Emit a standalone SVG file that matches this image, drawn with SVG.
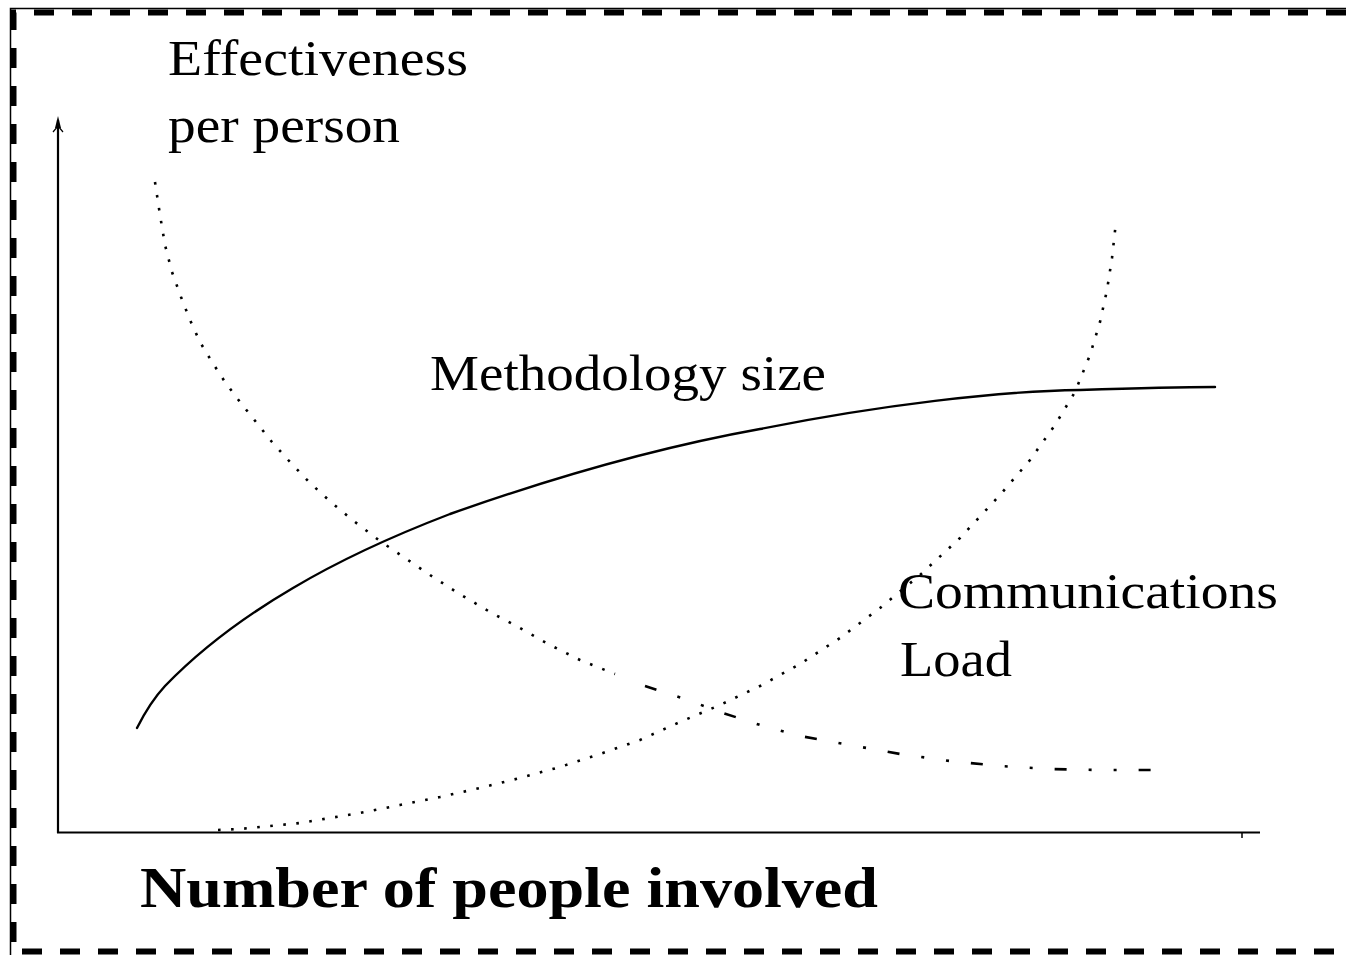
<svg xmlns="http://www.w3.org/2000/svg" width="1346" height="956" viewBox="0 0 1346 956">
  <style>
    .lbl { font-family: "Liberation Serif", "DejaVu Serif", serif; font-size: 50px; fill: #000; }
    .title { font-family: "Liberation Serif", "DejaVu Serif", serif; font-size: 58px; font-weight: bold; fill: #000; }
    .axis { fill: none; stroke: #000; stroke-width: 2.2; }
    .solid { fill: none; stroke: #000; stroke-width: 2.4; stroke-linejoin: round; stroke-linecap: round; }
    .dotted { fill: none; stroke: #000; stroke-width: 2.6; stroke-dasharray: 2.6 10.5; stroke-linejoin: round; }
    .dashdot { fill: none; stroke: #000; stroke-width: 2.6; stroke-dasharray: 12 22 3 22 3 22; }
    .frame-line { fill: none; stroke: #000; stroke-width: 1.5; }
    .frame-dash { fill: none; stroke: #000; stroke-width: 6; stroke-dasharray: 20 18; }
  </style>
  <rect width="1346" height="956" fill="#fff"/>

  <!-- dashed page frame -->
  <g id="frame">
    <path class="frame-line" d="M1346,8.5 H10.5 V955"/>
    <path class="frame-dash" d="M1346,12.5 H13.5 V951.5 H1346"/>
  </g>

  <!-- axes -->
  <g id="axes">
    <line class="axis" x1="58" y1="120" x2="58" y2="833"/>
    <path d="M58,116 L55,128 L61,128 Z" fill="#000"/>
    <path d="M53,132 L58,126 L63,132" fill="none" stroke="#000" stroke-width="1.2"/>
    <line class="axis" x1="57" y1="832.5" x2="1260" y2="832.5"/>
    <line x1="1242" y1="832" x2="1242" y2="838" stroke="#000" stroke-width="1.5"/>
  </g>

  <g id="connectors">
    <!-- methodology size: solid -->
    <path id="methodology-curve" class="solid" d="M137,728 C145,712 152,700 165,686 C195,655 235,622 293,588 C340,560 390,537 450,514 C560,475 660,447 760,429 C880,405 1000,391 1080,390 C1140,388 1180,387 1215,387"/>
    <!-- effectiveness per person: dotted, breaking into dashes at the tail -->
    <path id="effectiveness-curve" class="dotted" d="M155,182 L160,215 L165,245 L172,272 L181,297 L190,320 L200,342 L212,362 L225,382 L240,402 L256,422 L272,442 L290,462 L310,483 L332,503 L355,522 L380,541 L405,558 L430,575 L458,593 L490,612 L520,628 L550,645 L580,660 L615,674"/>
    <path id="effectiveness-tail" class="dashdot" d="M645,686 L685,699 L720,712 L760,725 L800,736 L850,745 L900,754 L950,761 L1000,766 L1050,769 L1100,770 L1168,770"/>
    <!-- communications load: dotted -->
    <path id="communications-curve" class="dotted" d="M218,830 L240,829 L270,826 L300,823 L330,818 L360,813 L400,805 L440,797 L480,788 L520,778 L560,767 L600,754 L640,740 L680,722 L720,705 L760,686 L800,664 L840,638 L880,608 L920,575 L960,538 L1000,495 L1030,460 L1055,425 L1075,392 L1090,355 L1100,322 L1107,290 L1112,258 L1116,222"/>
  </g>

  <g id="label-effectiveness">
    <text class="lbl" x="168" y="75" textLength="300" lengthAdjust="spacingAndGlyphs">Effectiveness</text>
    <text class="lbl" x="168" y="142" textLength="232" lengthAdjust="spacingAndGlyphs">per person</text>
  </g>
  <g id="label-methodology">
    <text class="lbl" x="430" y="390" textLength="396" lengthAdjust="spacingAndGlyphs">Methodology size</text>
  </g>
  <g id="label-communications">
    <text class="lbl" x="898" y="608" textLength="380" lengthAdjust="spacingAndGlyphs">Communications</text>
    <text class="lbl" x="900" y="676" textLength="112" lengthAdjust="spacingAndGlyphs">Load</text>
  </g>
  <g id="label-x-axis">
    <text class="title" x="140" y="907" textLength="738" lengthAdjust="spacingAndGlyphs">Number of people involved</text>
  </g>
</svg>
